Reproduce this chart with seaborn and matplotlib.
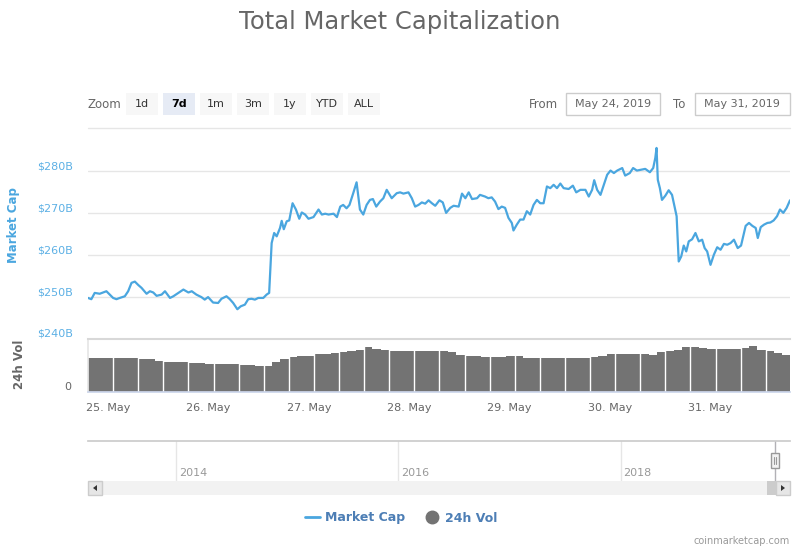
import numpy as np
import pandas as pd
import matplotlib
matplotlib.use("Agg")
import matplotlib.pyplot as plt
import matplotlib.dates as mdates
from matplotlib.patches import Rectangle, Polygon
from matplotlib.lines import Line2D
import seaborn as sns

# market cap, hours after 24 May 2019 00:00, values in $B
mcap_hours = [
    19.2, 20.0, 20.8, 22.0, 22.8, 23.6, 24.4, 25.2, 26.0, 26.8,
    28.0, 28.8, 29.6, 30.4, 31.2, 32.0, 33.2, 34.0, 34.8, 35.6,
    36.8, 37.6, 38.8, 39.6, 40.8, 42.0, 43.2, 44.0, 45.1, 46.3,
    47.1, 47.9, 49.1, 50.3, 51.1, 52.3, 53.1, 53.9, 54.9, 55.7,
    56.7, 57.5, 58.3, 59.1, 59.9, 61.1, 61.9, 62.5, 63.1, 63.7,
    64.3, 65.1, 65.5, 66.0, 66.7, 67.3, 68.1, 68.9, 69.7, 70.3,
    71.1, 71.9, 73.1, 74.3, 75.1, 75.9, 76.7, 77.9, 78.7, 79.5,
    80.2, 81.0, 81.7, 82.6, 83.4, 84.2, 85.0, 85.8, 86.6, 87.3,
    88.1, 89.0, 89.8, 90.6, 91.8, 93.0,
    93.8, 94.6, 95.8, 96.6, 97.4, 98.2, 99.0, 99.8, 100.6, 101.4,
    102.2, 103.2, 104.0, 104.8, 105.8, 106.6, 107.8, 108.6, 109.4, 110.2,
    111.0, 112.2, 112.9, 114.1, 114.9, 115.7, 116.5, 117.3, 118.1, 118.9,
    119.7, 120.5, 120.9, 121.7, 122.5, 123.3, 124.1, 124.9, 125.7, 126.5,
    127.3, 128.1, 128.9, 129.7, 130.5, 131.3, 132.1, 132.9, 134.1, 135.1,
    135.9, 136.9, 138.1, 138.9, 139.7, 140.2, 140.9, 141.7, 142.5, 143.3,
    144.1, 144.9, 145.7, 146.9, 147.6, 148.7, 149.5, 150.4, 151.4, 152.4,
    153.5, 154.3, 154.8, 155.1, 155.4, 155.9, 156.4, 157.2, 158.0, 158.8,
    159.5, 159.9, 160.4, 161.0, 161.6, 162.2, 162.8, 163.6, 164.4, 165.2,
    166.0, 166.6, 167.2, 168.0, 168.8, 169.6, 170.4, 171.2, 172.0, 172.8,
    173.6, 174.5, 175.3, 176.4, 177.2, 178.0, 178.8, 179.3, 180.0, 180.8,
    181.6, 182.3, 183.1, 183.9, 184.6, 185.4, 186.2, 187.0,
]
mcap_values = [
    249.8, 249.5, 251.0, 250.8, 251.1, 251.4, 250.6, 249.8, 249.5, 249.8,
    250.2, 251.4, 253.4, 253.7, 252.9, 252.2, 250.8, 251.4, 251.1, 250.3,
    250.6, 251.4, 249.8, 250.2, 251.0, 251.8, 251.1, 251.4, 250.6, 250.0,
    249.4, 250.0, 248.7, 248.6, 249.6, 250.2, 249.5, 248.6, 247.1, 247.8,
    248.2, 249.5, 249.6, 249.4, 249.8, 249.8, 250.6, 251.0, 262.9, 265.3,
    264.5, 266.5, 268.2, 266.2, 268.1, 268.3, 272.4, 270.9, 268.7, 270.2,
    269.7, 268.7, 269.1, 270.9, 269.7, 269.9, 269.7, 269.9, 269.1, 271.6,
    272.0, 271.2, 272.0, 274.8, 277.4, 270.9, 269.7, 272.0, 273.2, 273.4,
    271.6, 272.8, 273.6, 275.6, 273.6, 274.8,
    275.0, 274.7, 275.0, 273.6, 271.6, 272.0, 272.6, 272.3, 273.1, 272.4,
    271.8, 273.1, 272.6, 270.1, 271.3, 271.8, 271.6, 274.7, 273.6, 275.0,
    273.4, 273.6, 274.4, 274.0, 273.6, 273.8, 272.8, 271.0, 271.6, 271.3,
    268.9, 267.7, 265.9, 267.3, 268.5, 268.5, 270.5, 269.7, 272.0, 273.2,
    272.4, 272.4, 276.4, 276.0, 276.8, 276.0, 277.1, 276.0, 275.8, 276.6,
    275.0, 275.6, 275.6, 274.0, 275.6, 277.9, 275.6, 274.4, 276.8, 279.2,
    280.2, 279.6, 280.2, 280.8, 279.0, 279.6, 280.8, 280.2, 280.4, 280.6,
    279.8, 280.8, 283.2, 285.6, 278.0, 276.0, 273.2, 274.2, 275.5, 274.4,
    271.2, 269.3, 258.5, 259.7, 262.3, 260.9, 263.3, 263.8, 265.3, 263.3,
    263.7, 261.7, 260.9, 257.7, 260.1, 261.9, 261.3, 262.7, 262.5, 262.9,
    263.7, 261.7, 262.3, 267.0, 267.7, 267.0, 266.5, 264.1, 266.7, 267.3,
    267.7, 267.8, 268.3, 269.3, 270.9, 270.1, 271.3, 273.1,
]
# 24h volume, one value per 2 hours (relative units, axis 0-100)
vol_values = [
    65, 65, 65, 64.5, 63.5, 63.5, 63, 62, 58.5, 56.5,
    56, 56, 54, 54, 53.5, 52.5, 52.5, 52, 50.5, 50.5,
    50, 49, 57, 62, 66.5, 67.5, 68, 72.5, 72.5, 73,
    75, 77.5, 80, 84, 81, 79, 77, 77, 77, 77,
    77, 77, 77, 76, 69, 68, 68, 66.5, 66.5, 66.5,
    67.5, 67, 65, 65, 65, 65, 65, 65, 64.5, 63.5,
    66, 68, 71.5, 71.5, 71.5, 71.5, 71.5, 70, 75, 77,
    80, 84, 84, 82.5, 82, 82, 82, 82, 83, 86.5,
    80, 78, 74, 69,
]
vol_step_hours = 2
day_start = "2019-05-24"

range_buttons = ["1d", "7d", "1m", "3m", "1y", "YTD", "ALL"]
selected_button = "7d"
range_from = "May 24, 2019"
range_to = "May 31, 2019"
nav_years = [2014, 2016, 2018]

LINE = "#4aa6df"
VOL = "#737373"

sns.set_theme(style="white")
plt.rcParams["font.family"] = ["DejaVu Sans"]

W, H = 800, 550


def box(l, t, r, b):
    return [l / W, 1 - b / H, (r - l) / W, (b - t) / H]


t0 = pd.Timestamp(day_start)
times = t0 + pd.to_timedelta(mcap_hours, unit="h")
df = pd.DataFrame({"time": times, "mcap": mcap_values})
vol_times = times[0] + pd.to_timedelta(np.arange(len(vol_values)) * vol_step_hours, unit="h")

fig = plt.figure(figsize=(8, 5.5), dpi=100)

# price pane
ax = fig.add_axes(box(88, 145, 790, 339))
sns.lineplot(data=df, x="time", y="mcap", ax=ax, color=LINE, lw=1.6)
ax.set_xlim(times[0], times[-1])
ax.set_ylim(240, 286.3)
yt = [240, 250, 260, 270, 280]
ax.set_yticks(yt, labels=[f"${v}B" for v in yt], va="bottom")
ax.grid(axis="y", color="#e6e6e6", lw=1)
ax.grid(axis="x", visible=False)
ax.tick_params(axis="y", length=0, pad=11, labelsize=8, labelcolor="#5cb0e5")
ax.set_xticks([])
ax.set_xlabel("")
ax.set_ylabel("Market Cap", color=LINE, fontsize=8.5, fontweight="bold")
ax.yaxis.set_label_coords((20 - 88) / 702, (339 - 225) / 194)
for s in ax.spines.values():
    s.set_visible(False)

# volume pane
vax = fig.add_axes(box(88, 339, 790, 392))
vax.bar(vol_times, vol_values, width=vol_step_hours / 24, align="edge", color=VOL, lw=0)
for t in vol_times[3::3]:
    vax.axvline(t, color="white", lw=1.0)
vax.set_xlim(times[0], times[-1])
vax.set_ylim(0, 100)
vax.set_yticks([0], labels=["0"], va="bottom")
vax.tick_params(axis="y", length=0, pad=12, labelsize=8, labelcolor="#666666")
vax.xaxis.set_major_locator(mdates.DayLocator())
vax.xaxis.set_major_formatter(mdates.DateFormatter("%d. %b"))
vax.tick_params(axis="x", length=6, width=1, color="#ccd6eb", pad=2, labelsize=8, labelcolor="#666666")
vax.set_ylabel("24h Vol", color="#666666", fontsize=8.5, fontweight="bold")
vax.yaxis.set_label_coords((26 - 88) / 702, (392 - 364) / 53)
vax.spines["top"].set_color("#d8d8d8")
vax.spines["top"].set_linewidth(1.5)
vax.spines["left"].set_color("#e6e6e6")
vax.spines["right"].set_visible(False)
vax.spines["bottom"].set_color("#ccd6eb")

# navigator
nax = fig.add_axes(box(88, 441, 790, 481))
nax.set_xlim(pd.Timestamp("2013-03-16"), pd.Timestamp("2019-07-12"))
nax.set_ylim(0, 1)
for y in nav_years:
    d = pd.Timestamp(f"{y}-01-01")
    nax.axvline(d, color="#e6e6e6", lw=1)
    nax.annotate(str(y), (d, 0.2), xytext=(2, 0), textcoords="offset points",
                 color="#999999", fontsize=8, va="center", ha="left")
nax.axvline(times[0], color="#b2b1b6", lw=1)
nax.set_xticks([])
nax.set_yticks([])
for k, s in nax.spines.items():
    s.set_visible(k == "top")
nax.spines["top"].set_color("#cccccc")

# overlay for chart furniture, in pixel coordinates
ov = fig.add_axes([0, 0, 1, 1])
ov.set_xlim(0, W)
ov.set_ylim(H, 0)
ov.axis("off")

ov.text(400, 22, "Total Market Capitalization", ha="center", va="center",
        fontsize=17.5, color="#666666")

ov.text(88, 104, "Zoom", ha="left", va="center", fontsize=8.5, color="#666666")
for i, lab in enumerate(range_buttons):
    cx = 142 + 37 * i
    sel = lab == selected_button
    ov.add_patch(Rectangle((cx - 16, 93), 32, 22, fc="#e6ebf5" if sel else "#f7f7f7", ec="none"))
    ov.text(cx, 104, lab, ha="center", va="center", fontsize=8,
            color="#000000" if sel else "#333333", fontweight="bold" if sel else "normal")

ov.text(543, 104, "From", ha="center", va="center", fontsize=8.5, color="#666666")
ov.add_patch(Rectangle((566, 93), 94, 22, fc="white", ec="#cccccc", lw=1))
ov.text(613, 104, range_from, ha="center", va="center", fontsize=8, color="#666666")
ov.text(679, 104, "To", ha="center", va="center", fontsize=8.5, color="#666666")
ov.add_patch(Rectangle((695, 93), 95, 22, fc="white", ec="#cccccc", lw=1))
ov.text(742, 104, range_to, ha="center", va="center", fontsize=8, color="#666666")
ov.plot([88, 790], [128, 128], color="#e6e6e6", lw=1)

# scrollbar
ov.add_patch(Rectangle((88, 481), 702, 14, fc="#f2f2f2", ec="none"))
ov.add_patch(Rectangle((88, 481), 14, 14, fc="#e6e6e6", ec="#cccccc", lw=1))
ov.add_patch(Rectangle((776, 481), 14, 14, fc="#e6e6e6", ec="#cccccc", lw=1))
ov.add_patch(Rectangle((767, 481), 9, 14, fc="#cccccc", ec="none"))
ov.add_patch(Polygon([[93, 488], [97, 485], [97, 491]], fc="#333333", ec="none"))
ov.add_patch(Polygon([[785, 488], [781, 485], [781, 491]], fc="#333333", ec="none"))

# navigator handle
ov.add_patch(Rectangle((771, 453), 8, 15, fc="#f2f2f2", ec="#999999", lw=1))
ov.plot([774, 774], [457, 464], color="#999999", lw=0.8)
ov.plot([776, 776], [457, 464], color="#999999", lw=0.8)

# legend
handles = [Line2D([], [], color=LINE, lw=2),
           Line2D([], [], marker="o", ms=9, color=VOL, ls="none")]
fig.legend(handles, ["Market Cap", "24h Vol"], loc="center",
           bbox_to_anchor=(401 / W, 1 - 518 / H), ncol=2, frameon=False,
           prop=dict(weight="bold", size=9), labelcolor="#4d7eb5",
           handlelength=1.2, columnspacing=1.6, handletextpad=0.4)

ov.text(790, 541, "coinmarketcap.com", ha="right", va="center", fontsize=7,
        color="#999999")

fig.savefig("out.png", dpi=100)
